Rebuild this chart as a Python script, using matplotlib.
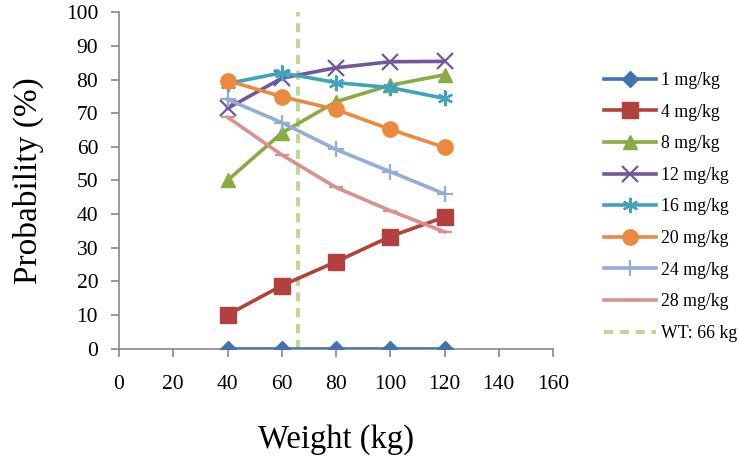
import matplotlib
matplotlib.use("Agg")
import matplotlib.pyplot as plt

weights = [40, 60, 80, 100, 120]
series_names = ["1 mg/kg", "4 mg/kg", "8 mg/kg", "12 mg/kg", "16 mg/kg",
                "20 mg/kg", "24 mg/kg", "28 mg/kg"]
p1 = [0, 0, 0, 0, 0]
p4 = [10.0, 18.7, 25.8, 33.3, 39.1]
p8 = [50.0, 64.1, 73.4, 78.3, 81.4]
p12 = [71.4, 80.4, 83.5, 85.3, 85.4]
p16 = [78.8, 82.0, 79.1, 77.6, 74.4]
p20 = [79.7, 74.9, 71.1, 65.2, 59.8]
p24 = [74.1, 67.2, 59.2, 52.6, 46.0]
p28 = [68.8, 57.6, 47.9, 41.0, 34.7]
wt_value = 66
wt_label = "WT: 66 kg"

values = [p1, p4, p8, p12, p16, p20, p24, p28]
colors = ["#4472AF", "#B2413E", "#88AB44", "#72589A", "#3FA3BE", "#EB8A3E", "#93ADD6", "#D9908E"]
markers = ["D", "s", "^", "x", "x", "o", "+", "_"]
msizes = [8, 11, 10, 11, 11, 11, 12, 10]

plt.rcParams['font.family'] = ['Liberation Serif', 'DejaVu Serif']

fig = plt.figure(figsize=(7.40, 4.59), dpi=100)
ax = fig.add_axes([119/740, 1-348.5/459, (553-119)/740, (348.5-12.3)/459])

for i, (name, vals) in enumerate(zip(series_names, values)):
    mk = markers[i]
    kw = dict(color=colors[i], lw=2.6, marker=mk, markersize=msizes[i], label=name,
              markeredgecolor=colors[i], markerfacecolor=colors[i])
    if mk in ("x", "+", "_"):
        kw["markeredgewidth"] = 1.6
    if i == 4:
        ax.plot(weights, vals, linestyle="none", marker="|", markersize=11,
                markeredgewidth=1.6, color=colors[i])
        kw["marker"] = (6, 2, 0)
    ax.plot(weights, vals, **kw, zorder=3)

ax.plot([wt_value, wt_value], [0, 100], color="#C2D69A", lw=3, ls=(0, (2.2, 1.6)),
        label=wt_label, zorder=2)

ax.set_xlim(0, 160)
ax.set_ylim(0, 100)
ax.set_xticks(range(0, 161, 20))
ax.set_yticks(range(0, 101, 10))
for s in ["top", "right"]:
    ax.spines[s].set_visible(False)
for s in ["left", "bottom"]:
    ax.spines[s].set_color("#888888")
    ax.spines[s].set_linewidth(1.2)
ax.tick_params(axis="both", colors="#888888", labelcolor="black", labelsize=15.5,
               length=6, width=1.2, direction="out")
ax.tick_params(axis="x", pad=13)
ax.tick_params(axis="y", pad=9)
ax.set_xlabel("Weight (kg)", fontsize=23.5, labelpad=22)
ax.set_ylabel("Probability (%)", fontsize=24, labelpad=16)

fig.legend(loc="upper left", bbox_to_anchor=(597/740, 1-65/459), frameon=False,
           fontsize=12.8, handlelength=2.9, labelspacing=0.82, handletextpad=0.3,
           borderaxespad=0)

fig.savefig("out.png", dpi=100)
